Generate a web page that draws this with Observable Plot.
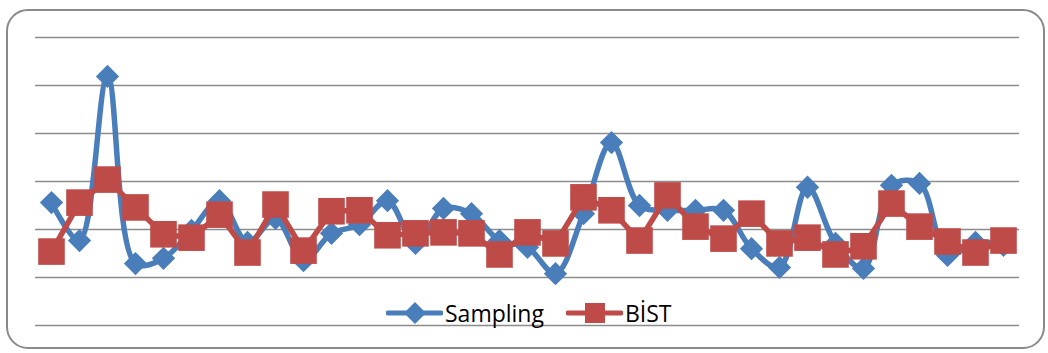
<!DOCTYPE html>
<html>
<head>
<meta charset="utf-8">
<script src="https://cdn.jsdelivr.net/npm/d3@7"></script>
<script src="https://cdn.jsdelivr.net/npm/@observablehq/plot@0.6"></script>
<style>
  html, body { margin: 0; padding: 0; background: #fff; }
  #wrap { position: relative; width: 1048px; height: 353px; overflow: hidden; }
  #frame { position: absolute; left: 6px; top: 9px; width: 1039px; height: 340px;
           border: 2px solid #8a8a8a; border-radius: 22px; box-sizing: border-box; }
  #chart { position: absolute; left: 0; top: 0; }
  #legend { position: absolute; left: 386px; top: 298px; display: flex; align-items: center;
            font-family: "Open Sans", sans-serif; font-size: 23px; color: #000; line-height: 30px; }
  #legend .item { display: flex; align-items: center; }
  #legend svg { display: block; }
</style>
</head>
<body>
<div id="wrap">
  <div id="frame"></div>
  <div id="chart"></div>
  <div id="legend"></div>
</div>
<script>
const categories = d3.range(1, 36);
const sampling = [2.56, 1.77, 5.19, 1.29, 1.40, 1.98, 2.60, 1.73, 2.23, 1.35,
                  1.92, 2.10, 2.60, 1.71, 2.44, 2.33, 1.77, 1.63, 1.08, 2.33,
                  3.81, 2.50, 2.40, 2.40, 2.40, 1.60, 1.21, 2.88, 1.71, 1.19,
                  2.92, 2.96, 1.46, 1.73, 1.67];
const bist = [1.54, 2.56, 3.04, 2.46, 1.90, 1.83, 2.31, 1.52, 2.52, 1.56,
              2.38, 2.40, 1.88, 1.92, 1.94, 1.92, 1.48, 1.94, 1.71, 2.67,
              2.40, 1.77, 2.71, 2.06, 1.81, 2.33, 1.71, 1.83, 1.48, 1.65,
              2.54, 2.06, 1.75, 1.52, 1.77];
const yTicks = [0, 1, 2, 3, 4, 5, 6];
const seriesNames = ["Sampling", "BİST"];
const colors = ["#4a7ebb", "#be4b48"];

const dS = categories.map((c, i) => ({x: c, y: sampling[i]}));
const dB = categories.map((c, i) => ({x: c, y: bist[i]}));

const chart = Plot.plot({
  width: 1048,
  height: 353,
  marginLeft: 35,
  marginRight: 29,
  marginTop: 37,
  marginBottom: 28,
  x: {type: "point", domain: categories, padding: 0.5, axis: null},
  y: {domain: [0, 6], axis: null},
  marks: [
    Plot.ruleY(yTicks, {stroke: "#8c8c8c", strokeWidth: 1.6}),
    Plot.line(dS, {x: "x", y: "y", stroke: colors[0], strokeWidth: 5.5, curve: "catmull-rom"}),
    Plot.dot(dS, {x: "x", y: "y", symbol: "diamond2", r: 10.5, fill: colors[0], stroke: "none"}),
    Plot.line(dB, {x: "x", y: "y", stroke: colors[1], strokeWidth: 5.5}),
    Plot.dot(dB, {x: "x", y: "y", symbol: "square", r: 15, fill: colors[1], stroke: "none"})
  ]
});
document.getElementById("chart").appendChild(chart);

// legend
const legend = document.getElementById("legend");
seriesNames.forEach((name, i) => {
  const item = document.createElement("div");
  item.className = "item";
  item.style.marginRight = i === 0 ? "22px" : "0";
  const svg = d3.create("svg").attr("width", 57).attr("height", 26);
  svg.append("line").attr("x1", 2).attr("x2", 55).attr("y1", 13).attr("y2", 13)
    .attr("stroke", colors[i]).attr("stroke-width", 5).attr("stroke-linecap", "round");
  if (i === 0) {
    svg.append("path").attr("d", "M29,2 L40,13 L29,24 L18,13 Z").attr("fill", colors[i]);
  } else {
    svg.append("rect").attr("x", 19).attr("y", 3).attr("width", 20).attr("height", 20).attr("fill", colors[i]);
  }
  item.appendChild(svg.node());
  const t = document.createElement("span");
  t.textContent = name;
  t.style.marginLeft = "2px";
  item.appendChild(t);
  legend.appendChild(item);
});
</script>
</body>
</html>
